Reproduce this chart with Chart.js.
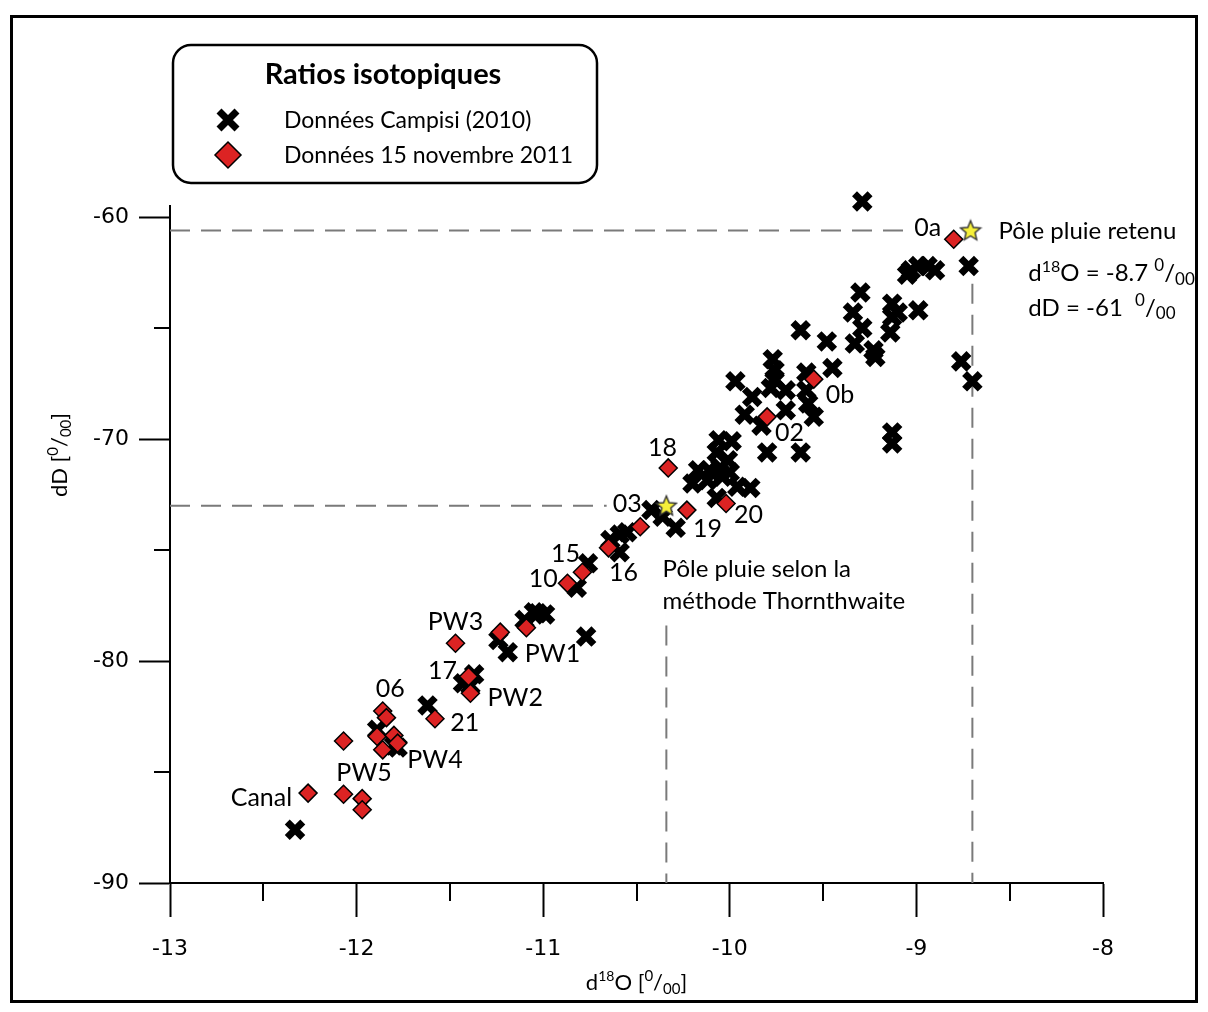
<!DOCTYPE html>
<html>
<head>
<meta charset="utf-8">
<script src="https://cdn.jsdelivr.net/npm/chart.js@4.4.1/dist/chart.umd.min.js"></script>
<style>
  html, body { margin: 0; padding: 0; background: #fff; }
</style>
</head>
<body>
<canvas id="chart" width="1208" height="1012"></canvas>
<script>
// Données Campisi (2010) : d18O / dD
const campisiX = [-9.29, -8.72, -9.03, -8.99, -8.94, -8.90, -9.05, -9.30, -9.34, -9.13,
  -9.10, -8.99, -9.13, -9.62, -9.48, -9.29, -9.33, -9.14, -9.23, -9.22,
  -9.77, -9.76, -9.76, -9.45, -9.59, -9.97, -9.88, -9.70, -9.59, -9.78,
  -9.92, -9.70, -9.58, -9.55, -9.83, -9.80, -9.62, -9.13, -9.13, -8.76,
  -8.70, -10.06, -9.99, -10.07, -10.01, -10.17, -10.11, -10.05, -10.04, -10.00,
  -10.20, -10.12, -9.96, -9.89, -10.07, -10.42, -10.36, -10.29, -10.55, -10.59,
  -10.64, -10.59, -10.76, -10.82, -11.05, -10.99, -11.03, -11.10, -11.24, -11.19,
  -10.77, -11.43, -11.37, -11.39, -11.62, -11.89, -11.80, -11.78, -12.33];
const campisiY = [-59.3, -62.2, -62.4, -62.2, -62.2, -62.4, -62.6, -63.4, -64.3, -63.9,
  -64.3, -64.2, -64.5, -65.1, -65.6, -65.0, -65.7, -65.2, -66.0, -66.3,
  -66.4, -66.9, -67.3, -66.8, -67.0, -67.4, -68.1, -67.8, -67.8, -67.7,
  -68.9, -68.7, -68.4, -69.0, -69.4, -70.6, -70.6, -69.7, -70.2, -66.5,
  -67.4, -70.05, -70.1, -70.6, -70.95, -71.4, -71.4, -71.3, -71.7, -71.5,
  -72.0, -71.85, -72.15, -72.2, -72.65, -73.2, -73.5, -74.0, -74.2, -74.3,
  -74.55, -75.1, -75.6, -76.7, -77.8, -77.9, -77.85, -78.15, -79.05, -79.6,
  -78.9, -81.0, -80.6, -81.1, -82.0, -83.1, -83.8, -83.9, -87.6];

// Données 15 novembre 2011
const novX = [-8.80, -9.55, -9.80, -10.33, -10.23, -10.02, -10.48, -10.65, -10.79, -10.87,
  -11.09, -11.23, -11.47, -11.40, -11.39, -11.58, -11.86, -11.84, -11.89, -11.80,
  -11.78, -11.86, -12.07, -12.07, -11.97, -11.97, -12.26];
const novY = [-61.0, -67.3, -69.0, -71.3, -73.2, -72.9, -73.95, -74.9, -76.0, -76.5,
  -78.5, -78.7, -79.2, -80.7, -81.45, -82.6, -82.25, -82.55, -83.4, -83.35,
  -83.7, -84.0, -83.6, -86.0, -86.2, -86.7, -85.95];

// pôles pluie (étoiles) : retenu, Thornthwaite
const poleX = [-8.71, -10.34];
const poleY = [-60.6, -73.0];

// lignes de rappel en tirets
const guideRetenuHX = [-13, -9.06];
const guideRetenuHY = [-60.6, -60.6];
const guideRetenuVX = [-8.7, -8.7];
const guideRetenuVY = [-63.0, -90];
const guideThornHX = [-13, -10.66];
const guideThornHY = [-73.0, -73.0];
const guideThornVX = [-10.34, -10.34];
const guideThornVY = [-78.4, -90];

// axes
const xTickValues = [-13, -12, -11, -10, -9, -8];
const xMinorTicks = [-12.5, -11.5, -10.5, -9.5, -8.5];
const yTickValues = [-90, -80, -70, -60];
const yMinorTicks = [-85, -75, -65];

// étiquettes des échantillons (centre du texte, en unités des axes)
const sampleLabels = ['0a', '0b', '02', '18', '03', '19', '20', '15', '10', '16',
  'PW3', 'PW1', '17', 'PW2', '21', '06', 'PW4', 'PW5', 'Canal'];
const sampleLabelX = [-8.94, -9.41, -9.68, -10.36, -10.55, -10.12, -9.90, -10.88, -11.00, -10.57,
  -11.47, -10.95, -11.54, -11.15, -11.42, -11.82, -11.58, -11.96, -12.51];
const sampleLabelY = [-60.45, -67.97, -69.68, -70.36, -72.88, -74.01, -73.38, -75.14, -76.26, -75.99,
  -78.2, -79.64, -80.41, -81.62, -82.75, -81.22, -84.41, -85.0, -86.13];

const toPts = (xs, ys) => xs.map((x, i) => ({ x: x, y: ys[i] }));

const FONT = 'Lato, "Open Sans", sans-serif';
const RED = '#dc2323';

function makeStar(size) {
  const c = document.createElement('canvas');
  c.width = c.height = size;
  const g = c.getContext('2d');
  const cx = size / 2, cy = size / 2 + 0.8, R = size / 2 - 1.5, r = R * 0.45;
  g.beginPath();
  for (let i = 0; i < 10; i++) {
    const a = -Math.PI / 2 + i * Math.PI / 5;
    const rr = i % 2 ? r : R;
    g.lineTo(cx + rr * Math.cos(a), cy + rr * Math.sin(a));
  }
  g.closePath();
  g.fillStyle = '#f6f03a';
  g.fill();
  g.lineWidth = 1.4;
  g.strokeStyle = '#333';
  g.stroke();
  return c;
}

// texte avec exposants / indices : parts = [texte, taille relative, décalage vertical relatif]
function drawRich(ctx, parts, x, y, size, align) {
  const widths = parts.map(p => {
    ctx.font = Math.round(size * p[1]) + 'px ' + FONT;
    return ctx.measureText(p[0]).width;
  });
  const total = widths.reduce((a, b) => a + b, 0);
  let cx = align === 'center' ? x - total / 2 : x;
  ctx.textAlign = 'left';
  ctx.textBaseline = 'alphabetic';
  parts.forEach((p, i) => {
    ctx.font = Math.round(size * p[1]) + 'px ' + FONT;
    ctx.fillText(p[0], cx, y + p[2] * size);
    cx += widths[i];
  });
}

const permil = [['0', 0.72, -0.42], ['/', 1, 0], ['00', 0.72, 0.14]];

const decor = {
  id: 'decor',
  beforeDraw(chart) {
    const ctx = chart.ctx;
    ctx.save();
    ctx.fillStyle = '#fff';
    ctx.fillRect(0, 0, chart.width, chart.height);
    ctx.restore();
  },
  afterDraw(chart) {
    const { ctx, scales: { x, y } } = chart;
    ctx.save();

    // petites graduations
    ctx.strokeStyle = '#000';
    ctx.lineWidth = 2;
    xMinorTicks.forEach(v => {
      const px = Math.round(x.getPixelForValue(v));
      ctx.beginPath(); ctx.moveTo(px, y.bottom); ctx.lineTo(px, y.bottom + 18); ctx.stroke();
    });
    yMinorTicks.forEach(v => {
      const py = Math.round(y.getPixelForValue(v));
      ctx.beginPath(); ctx.moveTo(x.left, py); ctx.lineTo(x.left - 16, py); ctx.stroke();
    });

    // cadre extérieur
    ctx.lineWidth = 3;
    ctx.strokeRect(11.5, 16.5, 1185, 985);

    // étiquettes des échantillons
    ctx.fillStyle = '#000';
    ctx.font = '25px ' + FONT;
    ctx.textAlign = 'center';
    ctx.textBaseline = 'alphabetic';
    sampleLabels.forEach((t, i) => {
      ctx.fillText(t, x.getPixelForValue(sampleLabelX[i]), y.getPixelForValue(sampleLabelY[i]) + 9);
    });

    // annotations pôle pluie
    ctx.font = '24px ' + FONT;
    ctx.textAlign = 'left';
    ctx.fillText('Pôle pluie retenu', x.getPixelForValue(-8.56), y.getPixelForValue(-60.59) + 9);
    drawRich(ctx, [['d', 1, 0], ['18', 0.68, -0.38], ['O = -8.7 ', 1, 0]].concat(permil),
      x.getPixelForValue(-8.40), y.getPixelForValue(-62.48) + 9, 24, 'left');
    drawRich(ctx, [['dD = -61  ', 1, 0]].concat(permil),
      x.getPixelForValue(-8.40), y.getPixelForValue(-64.05) + 9, 24, 'left');
    ctx.font = '24px ' + FONT;
    ctx.textAlign = 'left';
    ctx.fillText('Pôle pluie selon la', x.getPixelForValue(-10.36), y.getPixelForValue(-75.81) + 9);
    ctx.fillText('méthode Thornthwaite', x.getPixelForValue(-10.36), y.getPixelForValue(-77.25) + 9);

    // titres des axes
    drawRich(ctx, [['d', 1, 0], ['18', 0.62, -0.4], ['O [', 1, 0], ['0', 0.66, -0.4], ['/', 1, 0], ['00', 0.66, 0.16], [']', 1, 0]],
      x.getPixelForValue(-10.5), 990, 22, 'center');
    ctx.save();
    ctx.translate(67, 455);
    ctx.rotate(-Math.PI / 2);
    drawRich(ctx, [['dD [', 1, 0], ['0', 0.66, -0.4], ['/', 1, 0], ['00', 0.66, 0.16], [']', 1, 0]], 0, 0, 22, 'center');
    ctx.restore();

    // légende
    ctx.lineWidth = 2.5;
    ctx.strokeStyle = '#000';
    ctx.beginPath();
    ctx.roundRect(173, 45, 424, 138, 18);
    ctx.stroke();
    ctx.font = 'bold 29px ' + FONT;
    ctx.textAlign = 'center';
    ctx.fillText('Ratios isotopiques', 383, 84);
    ctx.lineWidth = 7;
    ctx.beginPath();
    ctx.moveTo(219, 111); ctx.lineTo(237, 129);
    ctx.moveTo(237, 111); ctx.lineTo(219, 129);
    ctx.stroke();
    ctx.beginPath();
    ctx.moveTo(228, 142); ctx.lineTo(241, 155); ctx.lineTo(228, 168); ctx.lineTo(215, 155);
    ctx.closePath();
    ctx.fillStyle = RED; ctx.fill();
    ctx.lineWidth = 1.5; ctx.stroke();
    ctx.fillStyle = '#000';
    ctx.font = '23px ' + FONT;
    ctx.textAlign = 'left';
    ctx.fillText('Données Campisi (2010)', 284, 128);
    ctx.fillText('Données 15 novembre 2011', 284, 163);

    ctx.restore();
  }
};

const dashStyle = {
  showLine: true, pointRadius: 0, borderColor: '#7a7a7a', borderWidth: 2,
  borderDash: [20, 11], fill: false, order: 5, clip: false
};

new Chart(document.getElementById('chart'), {
  type: 'scatter',
  data: {
    datasets: [
      Object.assign({ label: 'guide1', data: toPts(guideRetenuHX, guideRetenuHY) }, dashStyle),
      Object.assign({ label: 'guide2', data: toPts(guideRetenuVX, guideRetenuVY) }, dashStyle),
      Object.assign({ label: 'guide3', data: toPts(guideThornHX, guideThornHY) }, dashStyle),
      Object.assign({ label: 'guide4', data: toPts(guideThornVX, guideThornVY) }, dashStyle),
      {
        label: 'Données Campisi (2010)',
        data: toPts(campisiX, campisiY),
        pointStyle: 'crossRot', pointRadius: 11, borderWidth: 7,
        borderColor: '#000', backgroundColor: '#000', order: 3, clip: false
      },
      {
        label: 'Données 15 novembre 2011',
        data: toPts(novX, novY),
        pointStyle: 'rectRot', pointRadius: 9, borderWidth: 1.5,
        borderColor: '#000', backgroundColor: RED, order: 2, clip: false
      },
      {
        label: 'Pôle pluie',
        data: toPts(poleX, poleY),
        pointStyle: makeStar(24), pointRadius: 12, order: 1, clip: false
      }
    ]
  },
  options: {
    responsive: false,
    animation: false,
    devicePixelRatio: 1,
    layout: { padding: { left: 0, top: 206, right: 105, bottom: 0 } },
    plugins: { legend: { display: false }, tooltip: { enabled: false } },
    scales: {
      x: {
        type: 'linear', min: -13, max: -8,
        afterBuildTicks: s => { s.ticks = xTickValues.map(v => ({ value: v })); },
        afterFit: s => { s.height = 129; },
        ticks: { color: '#000', padding: 19, font: { family: 'DejaVu Sans', size: 22 } },
        grid: { drawOnChartArea: false, drawTicks: true, tickLength: 34, tickWidth: 2, tickColor: '#000', color: '#000' },
        border: { display: true, color: '#000', width: 2 }
      },
      y: {
        type: 'linear', min: -90, max: -59.5,
        afterBuildTicks: s => { s.ticks = yTickValues.map(v => ({ value: v })); },
        afterFit: s => { s.width = 170; },
        ticks: { color: '#000', padding: 10, font: { family: 'DejaVu Sans', size: 22 } },
        grid: { drawOnChartArea: false, drawTicks: true, tickLength: 31, tickWidth: 2, tickColor: '#000', color: '#000' },
        border: { display: true, color: '#000', width: 2 }
      }
    }
  },
  plugins: [decor]
});
</script>
</body>
</html>
